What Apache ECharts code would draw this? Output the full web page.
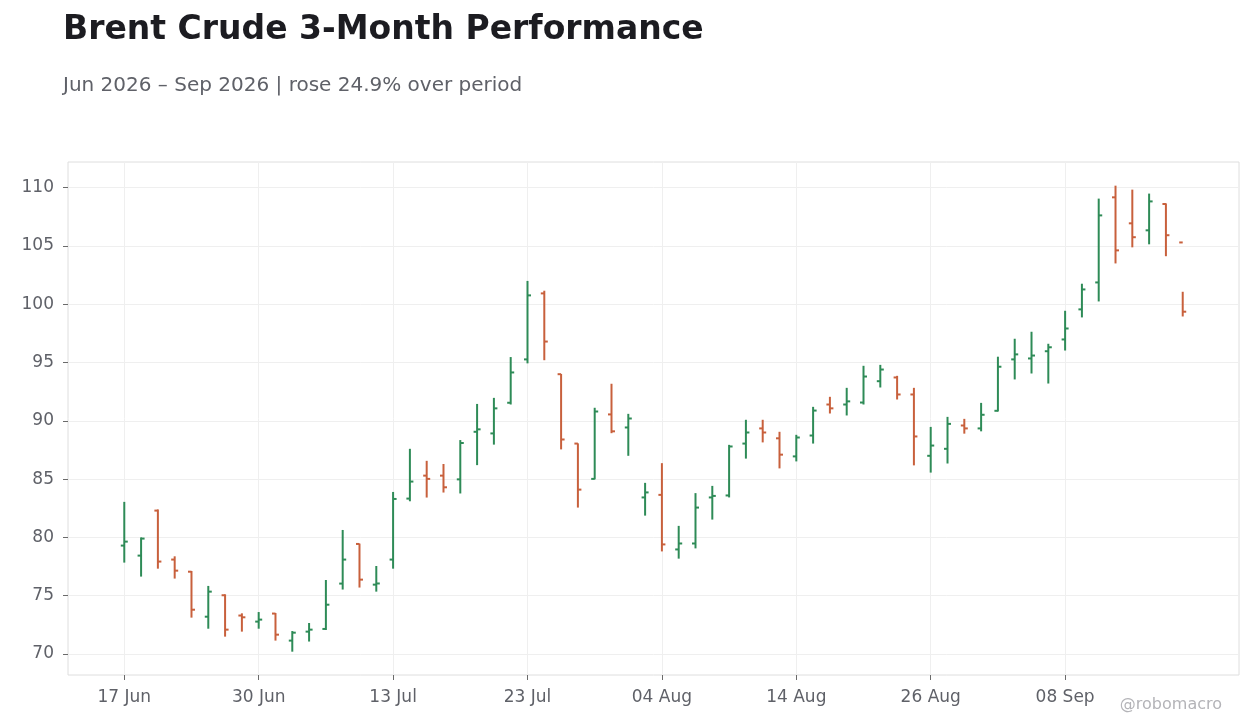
<!DOCTYPE html>
<html>
<head>
<meta charset="utf-8">
<title>Brent Crude 3-Month Performance</title>
<script src="https://cdn.jsdelivr.net/npm/echarts@6/dist/echarts.min.js"></script>
<style>
    html, body { margin: 0; padding: 0; background: #ffffff; }
    #chart { width: 1260px; height: 728px; }
</style>
</head>
<body>
<div id="chart"></div>
<script>
// trading days (Juneteenth, 3 Jul and Labor Day are missing)
var dates = [
    '17 Jun', '18 Jun', '22 Jun', '23 Jun', '24 Jun', '25 Jun', '26 Jun', '29 Jun', '30 Jun',
    '01 Jul', '02 Jul', '06 Jul', '07 Jul', '08 Jul', '09 Jul', '10 Jul', '13 Jul', '14 Jul',
    '15 Jul', '16 Jul', '17 Jul', '20 Jul', '21 Jul', '22 Jul', '23 Jul', '24 Jul', '27 Jul',
    '28 Jul', '29 Jul', '30 Jul', '31 Jul', '03 Aug', '04 Aug', '05 Aug', '06 Aug', '07 Aug',
    '10 Aug', '11 Aug', '12 Aug', '13 Aug', '14 Aug', '17 Aug', '18 Aug', '19 Aug', '20 Aug',
    '21 Aug', '24 Aug', '25 Aug', '26 Aug', '27 Aug', '28 Aug', '31 Aug', '01 Sep', '02 Sep',
    '03 Sep', '04 Sep', '08 Sep', '09 Sep', '10 Sep', '11 Sep', '14 Sep', '15 Sep', '16 Sep',
    '17 Sep'
];

var opens = [
    79.3, 78.44, 82.3, 78.1, 77.06, 73.2, 75.04, 73.3, 72.78, 73.47,
    71.15, 71.92, 72.15, 76.04, 79.44, 75.95, 78.1, 83.33, 85.3, 85.3,
    84.98, 89.06, 88.92, 91.55, 95.27, 100.93, 94.0, 88.05, 85.02, 90.55,
    89.43, 83.43, 83.65, 78.97, 79.48, 83.43, 83.6, 88.05, 89.35, 88.5,
    86.95, 88.74, 91.4, 91.4, 91.57, 93.4, 93.72, 92.26, 87.0, 87.6,
    89.6, 89.35, 90.86, 95.27, 95.35, 95.97, 96.98, 99.56, 101.87, 109.17,
    106.94, 106.34, 108.6, 105.3
];
var highs = [
    83.05, 80.0, 82.4, 78.38, 77.12, 75.84, 75.12, 73.49, 73.6, 73.52,
    71.97, 72.66, 76.35, 80.64, 79.47, 77.55, 83.9, 87.6, 86.57, 86.3,
    88.35, 91.45, 91.97, 95.47, 102.0, 101.16, 94.02, 88.07, 91.12, 93.18,
    90.6, 84.68, 86.37, 80.99, 83.8, 84.42, 87.94, 90.09, 90.09, 89.06,
    88.8, 91.2, 92.06, 92.83, 94.72, 94.8, 93.86, 92.83, 89.48, 90.34,
    90.17, 91.54, 95.5, 97.04, 97.64, 96.61, 99.44, 101.76, 109.06, 110.17,
    109.83, 109.49, 108.65, 101.07
];
var lows = [
    77.84, 76.64, 77.32, 76.47, 73.12, 72.17, 71.49, 71.92, 72.17, 71.15,
    70.2, 71.07, 72.06, 75.53, 75.7, 75.35, 77.32, 83.1, 83.42, 83.85,
    83.77, 86.2, 87.96, 91.4, 94.93, 95.2, 87.55, 82.56, 84.98, 88.94,
    87.0, 81.87, 78.8, 78.18, 79.06, 81.53, 83.43, 86.76, 88.15, 85.92,
    86.52, 88.05, 90.63, 90.46, 91.4, 92.86, 91.83, 86.18, 85.56, 86.34,
    88.9, 89.1, 90.8, 93.55, 94.06, 93.2, 96.03, 98.87, 100.24, 103.5,
    104.88, 105.14, 104.12, 98.95
];
var closes = [
    79.64, 79.9, 77.93, 77.15, 73.8, 75.35, 72.09, 73.15, 72.95, 71.66,
    71.83, 72.09, 74.23, 78.1, 76.38, 76.05, 83.3, 84.79, 85.02, 84.3,
    88.1, 89.27, 91.07, 94.15, 100.76, 96.8, 88.4, 84.1, 90.8, 89.1,
    90.2, 83.86, 79.4, 79.48, 82.56, 83.56, 87.8, 89.0, 89.0, 87.1,
    88.57, 90.88, 91.07, 91.67, 93.8, 94.4, 92.26, 88.66, 87.88, 89.74,
    89.35, 90.52, 94.64, 95.7, 95.6, 96.31, 97.92, 101.27, 107.62, 104.62,
    105.75, 108.82, 105.92, 99.36
];

// tick positions (index into dates) and price ticks
var xTicks = [0, 8, 16, 24, 32, 40, 48, 56];
var yTicks = [70, 75, 80, 85, 90, 95, 100, 105, 110];

var upColor = '#2e8b57';
var downColor = '#c8603c';
var labelColor = '#5f6168';

// build [index, open, high, low, close] rows for the custom series
var ohlc = [];
for (var i = 0; i < dates.length; i++) {
    ohlc.push([i, opens[i], highs[i], lows[i], closes[i]]);
}

// draws one OHLC bar: high-low line, open tick left, close tick right
function renderBar(params, api) {
    var x = api.value(0);
    var o = api.coord([x, api.value(1)]);
    var h = api.coord([x, api.value(2)]);
    var l = api.coord([x, api.value(3)]);
    var c = api.coord([x, api.value(4)]);
    var color = api.value(4) >= api.value(1) ? upColor : downColor;
    var tick = 3.5;
    var style = { stroke: color, lineWidth: 2 };
    return {
        type: 'group',
        children: [
            { type: 'line', shape: { x1: h[0], y1: h[1], x2: l[0], y2: l[1] }, style: style },
            { type: 'line', shape: { x1: o[0] - tick, y1: o[1], x2: o[0], y2: o[1] }, style: style },
            { type: 'line', shape: { x1: c[0], y1: c[1], x2: c[0] + tick, y2: c[1] }, style: style }
        ]
    };
}

var chart = echarts.init(document.getElementById('chart'), null, { renderer: 'canvas' });

var option = {
    animation: false,
    backgroundColor: '#ffffff',
    textStyle: { fontFamily: 'DejaVu Sans' },
    grid: {
        left: 68, right: 21, top: 162, bottom: 53,
        show: true, borderColor: '#dedede', borderWidth: 1
    },
    graphic: [
        {
            type: 'text', x: 63, y: 30,
            style: {
                text: 'Brent Crude 3-Month Performance',
                font: 'bold 33px "DejaVu Sans"', fill: '#1c1c21',
                align: 'left', verticalAlign: 'middle'
            }
        },
        {
            type: 'text', x: 63, y: 86,
            style: {
                text: 'Jun 2026 \u2013 Sep 2026 | rose 24.9% over period',
                font: '20px "DejaVu Sans"', fill: '#5f6168',
                align: 'left', verticalAlign: 'middle'
            }
        },
        {
            type: 'text', x: 1222, y: 705,
            style: {
                text: '@robomacro',
                font: '16px "DejaVu Sans"', fill: '#b4b4b8',
                align: 'right', verticalAlign: 'middle'
            }
        }
    ],
    xAxis: {
        type: 'value',
        min: -3.35,
        max: 66.35,
        axisLine: { show: false, onZero: false },
        axisTick: {
            show: true, customValues: xTicks, length: 5,
            lineStyle: { color: '#6a6a6a', width: 1 }
        },
        axisLabel: {
            customValues: xTicks, margin: 14,
            fontSize: 17, color: labelColor, fontFamily: 'DejaVu Sans',
            formatter: function (v) { return dates[Math.round(v)]; }
        },
        splitLine: { show: true, lineStyle: { color: '#efefef', width: 1 } }
    },
    yAxis: {
        type: 'value',
        min: 68.2,
        max: 112.2,
        axisLine: { show: false, onZero: false },
        axisTick: {
            show: true, customValues: yTicks, length: 5,
            lineStyle: { color: '#6a6a6a', width: 1 }
        },
        axisLabel: {
            customValues: yTicks, margin: 14,
            fontSize: 17, color: labelColor, fontFamily: 'DejaVu Sans'
        },
        splitLine: { show: true, lineStyle: { color: '#efefef', width: 1 } }
    },
    series: [
        {
            type: 'custom',
            renderItem: renderBar,
            encode: { x: 0, y: [1, 2, 3, 4] },
            data: ohlc,
            clip: true
        }
    ]
};

chart.setOption(option);
</script>
</body>
</html>
